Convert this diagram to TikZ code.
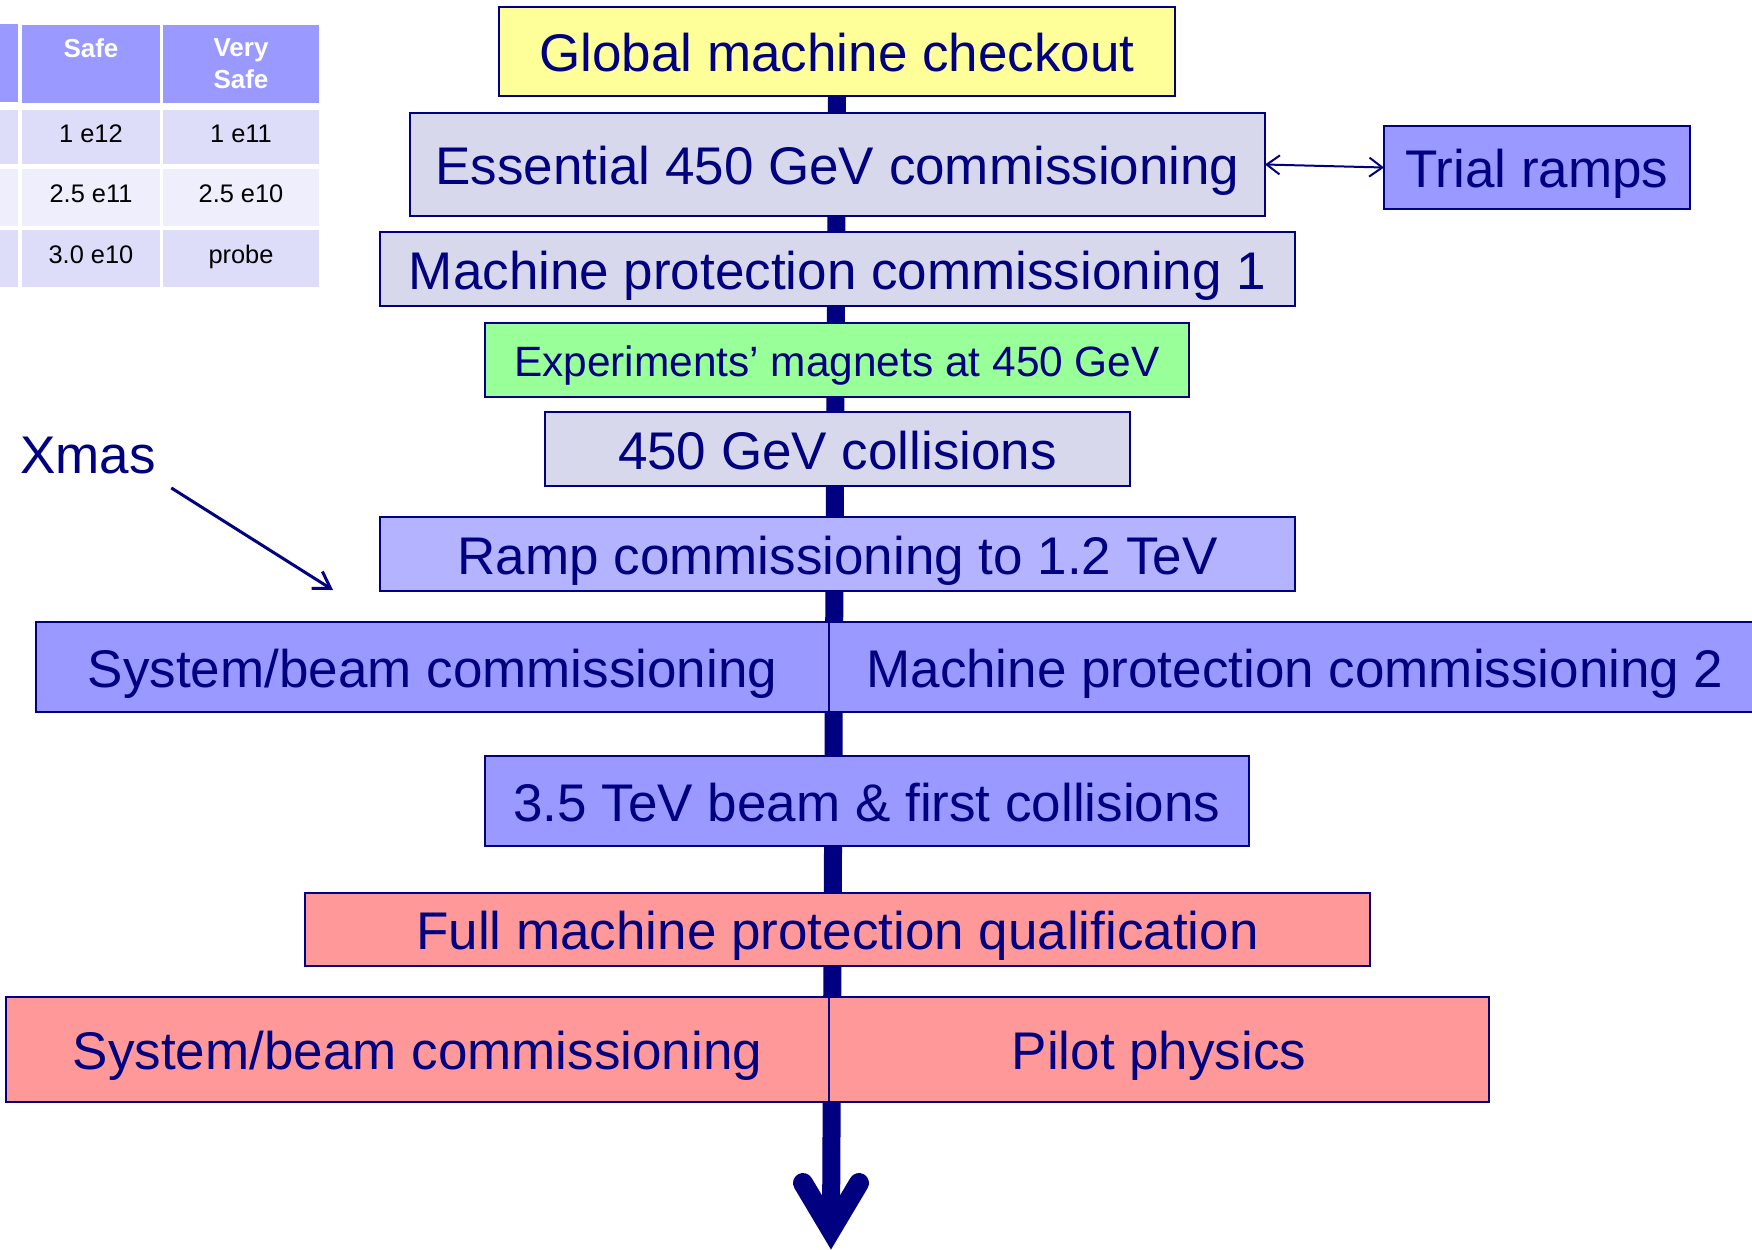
\documentclass[tikz,border=0pt]{standalone}
\usepackage{fontspec}
\setmainfont{Liberation Sans}
\usetikzlibrary{positioning}
\usetikzlibrary{backgrounds}
\usetikzlibrary{arrows.meta}

\definecolor{navy}{RGB}{0,0,128}
\definecolor{chkyellow}{RGB}{255,255,153}
\definecolor{stagegrey}{RGB}{216,216,236}
\definecolor{stagegreen}{RGB}{153,255,153}
\definecolor{stageblue}{RGB}{153,153,255}
\definecolor{stagelight}{RGB}{179,179,255}
\definecolor{stagered}{RGB}{255,153,153}
\definecolor{rowdark}{RGB}{221,221,250}
\definecolor{rowlight}{RGB}{238,238,252}

\tikzset{
  stage/.style={draw=navy, line width=1pt, text=navy, inner sep=0pt, outer sep=0pt,
    font=\fontsize{26.5}{30}\selectfont, text height=20pt, text depth=0pt},
  smallstage/.style={stage, font=\fontsize{21.2}{25}\selectfont, text height=16pt},
  cell/.style={inner sep=0pt, outer sep=0pt, text=black, font=\fontsize{12.7}{15}\selectfont,
    text height=9pt, text depth=3.5pt},
  headcell/.style={inner sep=0pt, outer sep=0pt, fill=stageblue, text=white, align=center,
    font=\fontsize{13}{16}\selectfont\bfseries},
  spine/.style={navy, line width=9pt},
  linkarrow/.style={navy, line width=1pt,
    {Straight Barb[length=6.5pt,width=9.5pt]}-{Straight Barb[length=6.5pt,width=9.5pt]}},
  xmasarrow/.style={navy, line width=1.5pt, -{Straight Barb[length=8pt,width=10pt]}}
}

\begin{document}
\begin{tikzpicture}[x=1pt, y=-1pt]
\useasboundingbox (0,0) rectangle (876,624.5);
%%% beam intensity table %%%

      \node[headcell, minimum width=68pt, minimum height=39pt] (head0) at (-25,31.5) {};
      \node[headcell, minimum width=69pt, minimum height=39pt] (head1) at (45.5,32) {Safe\\\mbox{}};
      \node[headcell, minimum width=78pt, minimum height=39pt] (head2) at (120.5,32) {Very\\Safe};
      %%
      \node[cell, fill=rowdark, minimum width=68pt, minimum height=27pt] (row10) at (-25,68.5) {};
      \node[cell, fill=rowdark, minimum width=69pt, minimum height=27pt] (row11) at (45.5,68.5) {1 e12};
      \node[cell, fill=rowdark, minimum width=78pt, minimum height=27pt] (row12) at (120.5,68.5) {1 e11};
      %%
      \node[cell, fill=rowlight, minimum width=68pt, minimum height=28.5pt] (row20) at (-25,98.5) {};
      \node[cell, fill=rowlight, minimum width=69pt, minimum height=28.5pt] (row21) at (45.5,98.5) {2.5 e11};
      \node[cell, fill=rowlight, minimum width=78pt, minimum height=28.5pt] (row22) at (120.5,98.5) {2.5 e10};
      %%
      \node[cell, fill=rowdark, minimum width=68pt, minimum height=28.5pt] (row30) at (-25,129) {};
      \node[cell, fill=rowdark, minimum width=69pt, minimum height=28.5pt] (row31) at (45.5,129) {3.0 e10};
      \node[cell, fill=rowdark, minimum width=78pt, minimum height=28.5pt] (row32) at (120.5,129) {probe};

%%% commissioning steps %%%

      \node[stage, fill=chkyellow, minimum width=338pt, minimum height=44.5pt] (global) at (418.5,25.75) {Global machine checkout};
      \node[stage, fill=stagegrey, minimum width=427.5pt, minimum height=51.5pt] (essential) at (418.75,82.25) {Essential 450 GeV commissioning};
      \node[stage, fill=stageblue, minimum width=153pt, minimum height=41.5pt] (trial) at (768.5,83.75) {Trial ramps};
      \node[stage, fill=stagegrey, minimum width=457.5pt, minimum height=37pt] (mpone) at (418.75,134.5) {Machine protection commissioning 1};
      \node[smallstage, fill=stagegreen, minimum width=352pt, minimum height=37pt] (magnets) at (418.5,180) {Experiments’ magnets at 450 GeV};
      \node[stage, fill=stagegrey, minimum width=292.5pt, minimum height=37pt] (coll) at (418.75,224.5) {450 GeV collisions};
      \node[stage, fill=stagelight, minimum width=457.5pt, minimum height=37pt] (ramp) at (418.75,277) {Ramp commissioning to 1.2 TeV};
      %%
      \node[stage, fill=stageblue, minimum width=396.5pt, minimum height=45pt] (sysone) at (216.25,333.5) {System/beam commissioning};
      \node[stage, fill=stageblue, minimum width=466pt, minimum height=45pt, right=0pt of sysone] (mptwo) {Machine protection commissioning 2};
      %%
      \node[stage, fill=stageblue, minimum width=382pt, minimum height=45pt] (tev) at (433.5,400.5) {3.5 TeV beam \& first collisions};
      \node[stage, fill=stagered, minimum width=532.5pt, minimum height=36.5pt] (fullmp) at (418.75,464.75) {Full machine protection qualification};
      %%
      \node[stage, fill=stagered, minimum width=411.5pt, minimum height=52.5pt] (systwo) at (208.75,524.75) {System/beam commissioning};
      \node[stage, fill=stagered, minimum width=330pt, minimum height=52.5pt, right=0pt of systwo] (pilot) {Pilot physics};

      \node[anchor=base west, inner sep=0pt, text=navy, font=\fontsize{26.5}{30}\selectfont] (xmas) at (10,236.5) {Xmas};

%%% connectors %%%

      \coordinate (tip) at (415.5,615);
      \coordinate (xmastip) at (166.5,295);
      \begin{pgfonlayer}{background}
        \draw[spine] (global.south) -- (tip);
      \end{pgfonlayer}
      \draw[spine, line width=10pt, line cap=round, line join=miter]
        ([shift={(-14,-23.5)}]tip) -- (tip) -- ([shift={(14,-23.5)}]tip);
      \draw[linkarrow] (essential.east) -- (trial.west);
      \draw[xmasarrow] ([shift={(7.5,7)}]xmas.south east) -- (xmastip);

\end{tikzpicture}
\end{document}
